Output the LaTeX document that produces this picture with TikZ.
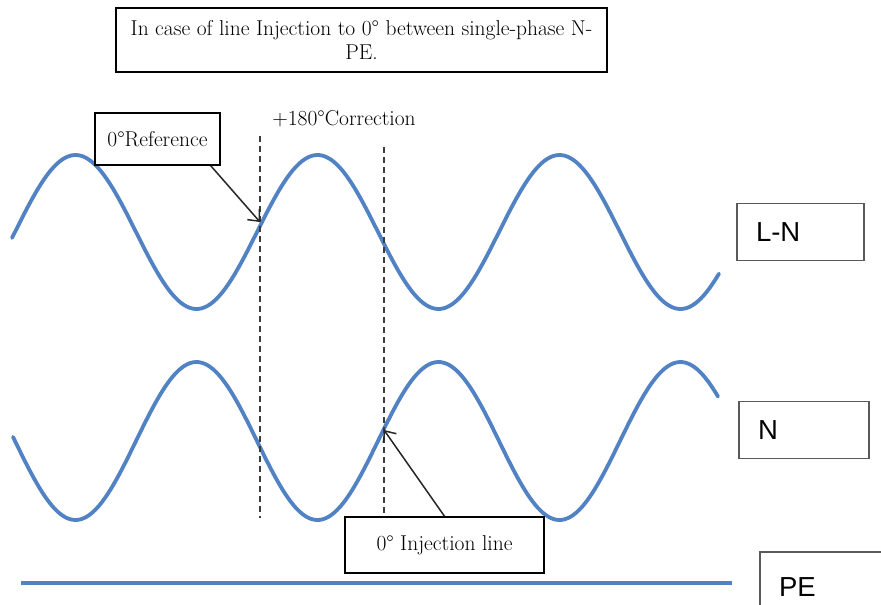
\documentclass[tikz,border=0pt]{standalone}
\usepackage{fontspec}
\newfontfamily\labsans{Liberation Sans}
\usetikzlibrary{arrows.meta}
\definecolor{wave}{RGB}{80,130,196}
\definecolor{dashc}{RGB}{60,60,60}
\definecolor{boxgray}{RGB}{90,90,90}
\begin{document}
\begin{tikzpicture}[x=1pt,y=-1pt,
  serifbox/.style={draw=black, line width=1.5pt, fill=white, font=\fontsize{21.5}{24}\selectfont, align=center, inner sep=0pt},
  seriftext/.style={font=\fontsize{21.5}{24}\selectfont, inner sep=0pt},
  labbox/.style={draw=boxgray, line width=1.5pt, fill=white, font=\labsans\fontsize{27.5}{32}\selectfont, align=left, inner xsep=19pt, inner ysep=0pt},
  wavestyle/.style={draw=wave, line width=3.8pt, line cap=round},
  dashline/.style={draw=dashc, line width=2pt, dash pattern=on 6pt off 4pt},
  ptr/.style={draw=black!85, line width=1.5pt, -{Straight Barb[length=9pt,width=16pt]}}]
\clip (0,0) rectangle (881,605);
\fill[white] (0,0) rectangle (881,605);
% waves
\draw[wavestyle] plot[domain=12:719, samples=240] (\x, {232 - 77*sin((\x-257)*1.48760)});
\draw[wavestyle] plot[domain=13:718, samples=240] (\x, {441 + 79*sin((\x-257)*1.48760)});
\coordinate (pes) at (21,583);
\coordinate (pee) at (732,583);
\draw[wavestyle, line cap=butt] (pes) -- (pee);
% dashed verticals
\coordinate (d1t) at (260,136);
\coordinate (d1b) at (260,518);
\coordinate (d2t) at (384,147);
\coordinate (d2b) at (384,515);
\draw[dashline] (d1t) -- (d1b);
\draw[dashline] (d2t) -- (d2b);
% boxes
\node[serifbox, minimum width=491pt, minimum height=64pt] (title) at (361.5,40) {In case of line Injection to 0° between single-phase N-\\PE.};
\node[serifbox, minimum width=125pt, minimum height=52pt] (ref) at (157.5,139) {0°Reference};
\node[seriftext] (corr) at (344,119) {+180°Correction};
\node[serifbox, minimum width=199pt, minimum height=56pt] (inj) at (444.5,545) {0° Injection line};
\node[labbox, minimum width=127pt, minimum height=57pt, text width=89pt] (ln) at (800.5,232) {L-N};
\node[labbox, minimum width=130pt, minimum height=57pt, text width=92pt] (n) at (804,430) {N};
\node[labbox, minimum width=140pt, minimum height=70pt, text width=102pt] (pe) at (830,587) {PE};
% arrows
\coordinate (reftip) at (260,222);
\coordinate (injtip) at (384,430);
\draw[ptr] ([xshift=-10pt]ref.south east) -- (reftip);
\draw[ptr] (inj.north) -- (injtip);
\end{tikzpicture}
\end{document}
